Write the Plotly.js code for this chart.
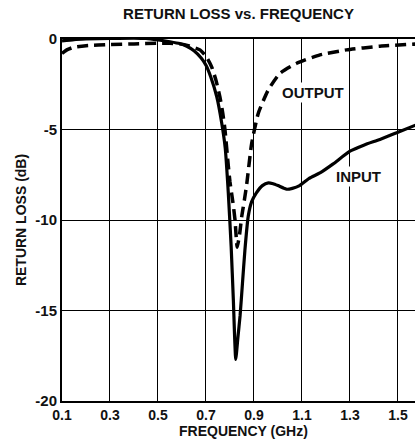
<!DOCTYPE html>
<html><head><meta charset="utf-8">
<script src="https://cdn.plot.ly/plotly-3.0.1.min.js"></script>
<style>html,body{margin:0;padding:0;background:#fff}#c{width:415px;height:444px}</style>
</head><body><div id="c"></div>
<script>
const freqIn = [0.1, 0.15, 0.2, 0.3, 0.4, 0.45, 0.5, 0.55, 0.59, 0.62, 0.65, 0.68, 0.70, 0.72, 0.745, 0.765, 0.78, 0.793, 0.805, 0.814, 0.824, 0.833, 0.842, 0.852, 0.862, 0.876, 0.89, 0.91, 0.935, 0.96, 0.98, 1.0, 1.036, 1.06, 1.09, 1.13, 1.175, 1.23, 1.3, 1.36, 1.425, 1.5, 1.575];
const inputLoss = [-0.1, -0.03, 0.0, 0.03, 0.05, 0.03, -0.05, -0.15, -0.25, -0.4, -0.65, -1.05, -1.45, -2.1, -3.2, -4.6, -6.0, -8.5, -11.5, -14.4, -17.7, -16.5, -15.3, -13.5, -11.7, -9.8, -9.0, -8.5, -8.1, -7.95, -8.0, -8.1, -8.3, -8.25, -8.1, -7.7, -7.4, -6.9, -6.2, -5.85, -5.55, -5.15, -4.75];
const freqOut = [0.1, 0.12, 0.15, 0.2, 0.3, 0.4, 0.5, 0.55, 0.59, 0.63, 0.675, 0.70, 0.724, 0.742, 0.758, 0.77, 0.779, 0.793, 0.80, 0.812, 0.821, 0.83, 0.84, 0.849, 0.86, 0.87, 0.89, 0.918, 0.96, 1.008, 1.078, 1.175, 1.286, 1.425, 1.575];
const outputLoss = [-0.8, -0.6, -0.45, -0.37, -0.3, -0.27, -0.24, -0.24, -0.27, -0.38, -0.6, -0.95, -1.55, -2.3, -3.2, -4.1, -5.0, -7.0, -7.9, -9.0, -10.0, -11.5, -10.8, -9.8, -8.9, -8.0, -5.8, -4.1, -2.8, -1.9, -1.34, -0.88, -0.6, -0.4, -0.28];
const xTicks = [0.1, 0.3, 0.5, 0.7, 0.9, 1.1, 1.3, 1.5];
const yTicks = [0, -5, -10, -15, -20];
const labels = [{text: 'OUTPUT', x: 1.146, y: -2.93}, {text: 'INPUT', x: 1.337, y: -7.6}];
const xTitle = 'FREQUENCY (GHz)';
const yTitle = 'RETURN LOSS (dB)';
const chartTitle = 'RETURN LOSS vs. FREQUENCY';

const fam = 'Liberation Sans, Arial, sans-serif';
const f = (s) => ({family: fam, size: s, color: '#111', weight: 'bold'});
const traces = [
  {x: freqIn, y: inputLoss, mode: 'lines', line: {color: '#000', width: 3.2, shape: 'spline', smoothing: 0.5}, hoverinfo: 'skip'},
  {x: freqOut, y: outputLoss, mode: 'lines', line: {color: '#000', width: 3.5, dash: '11px,6px', shape: 'spline', smoothing: 0.5}, hoverinfo: 'skip'}
];
const annotations = labels.map(l => ({x: l.x, y: l.y, text: '<b>' + l.text + '</b>', showarrow: false, bgcolor: '#fff',
    font: f(15), borderpad: 1}));
annotations.push({xref: 'paper', yref: 'paper', x: 0.513, y: 0, yshift: -30, xanchor: 'center', yanchor: 'middle',
  text: '<b>' + xTitle + '</b>', showarrow: false, font: f(14)});
const layout = {
  width: 415, height: 444,
  margin: {l: 62, r: 0, t: 39, b: 43},
  paper_bgcolor: '#fff', plot_bgcolor: '#fff',
  showlegend: false,
  font: f(14),
  title: {text: '<b>' + chartTitle + '</b>', font: f(15), x: 0.5, xref: 'paper', y: 0.968, yref: 'container', yanchor: 'middle'},
  xaxis: {range: [0.1, 1.571], tickvals: xTicks, ticktext: xTicks.map(v => '<b>' + v.toFixed(1) + '</b>'),
    showgrid: true, gridcolor: '#000', gridwidth: 1, zeroline: false,
    showline: true, linecolor: '#000', linewidth: 2, mirror: true, ticks: '', ticklen: 0,
    tickfont: f(14)},
  yaxis: {range: [-20, 0], tickvals: yTicks, ticktext: yTicks.map(v => '<b>' + v + '</b>'),
    showgrid: true, gridcolor: '#000', gridwidth: 1, zeroline: false,
    showline: true, linecolor: '#000', linewidth: 2, ticks: '', ticklen: 0,
    tickfont: f(15),
    title: {text: '<b>' + yTitle + '</b>', font: f(14), standoff: 5}},
  annotations: annotations
};
Plotly.newPlot('c', traces, layout, {staticPlot: true, displayModeBar: false});
</script></body></html>
